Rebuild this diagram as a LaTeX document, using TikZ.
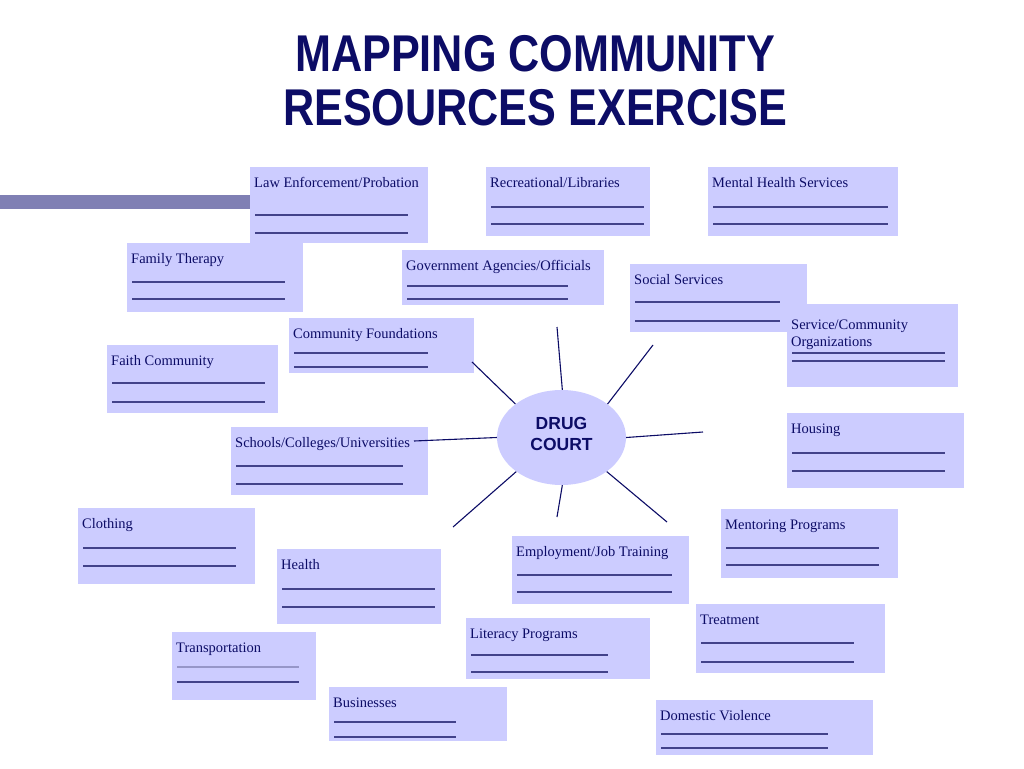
\documentclass[tikz,border=0pt]{standalone}
\usepackage{fontspec}
\setmainfont{Liberation Serif}
\newfontfamily\headfont[FakeStretch=0.835]{Liberation Sans}
\newfontfamily\hubfont{Liberation Sans}
\usetikzlibrary{shapes.geometric}

\definecolor{navy}{RGB}{12,12,102}
\definecolor{boxfill}{RGB}{204,204,255}
\definecolor{barcol}{RGB}{128,128,180}
\definecolor{blankline}{RGB}{66,66,138}
\definecolor{blanklight}{RGB}{150,150,200}

% box: name, x, y (top left), width, height, text, blank length, blank 1, blank 2
\newcommand{\resbox}[9]{%
\node[resbox, minimum width=#4pt, minimum height=#5pt, anchor=north west] (#1) at (#2,#3) {};
\node[restext, anchor=base west] (#1-t) at ([shift={(4pt,-20pt)}]#1.north west) {#6};
\draw[blank] ([shift={(5pt,-#8pt)}]#1.north west) -- ++(#7pt,0);
\draw[blank] ([shift={(5pt,-#9pt)}]#1.north west) -- ++(#7pt,0);
}

\begin{document}
\begin{tikzpicture}[x=1pt, y=-1pt,
  resbox/.style={rectangle, fill=boxfill, inner sep=0},
  restext/.style={inner sep=0, text=navy, font=\fontsize{14.5}{17}\selectfont},
  blank/.style={draw=blankline, line width=1.1pt},
  spoke/.style={draw=navy, line width=1.1pt},
  court/.style={ellipse, fill=boxfill, inner sep=0},
  courttext/.style={inner sep=0, text=navy, align=center,
    font=\hubfont\bfseries\fontsize{17.5}{21}\selectfont}]
\useasboundingbox (0,0) rectangle (1024,768);

% title
\node[text=navy, align=center, inner sep=0,
  font=\headfont\bfseries\fontsize{51.7}{54}\selectfont] (title) at (535,81)
  {MAPPING COMMUNITY\\RESOURCES EXERCISE};
\fill[barcol] (0,195) rectangle (260,209);

% resource boxes
\resbox{law}{250}{167}{178}{76}{Law Enforcement/Probation}{153}{48}{66}
\resbox{rec}{486}{167}{164}{69}{Recreational/Libraries}{153}{40}{57}
\resbox{mental}{708}{167}{190}{69}{Mental Health Services}{175}{40}{57}
\resbox{family}{127}{243}{176}{69}{Family Therapy}{153}{39}{56}
\resbox{gov}{402}{250}{202}{55}{Government Agencies/Officials}{161}{36}{49}
\resbox{social}{630}{264}{177}{68}{Social Services}{145}{38}{57}
\resbox{serv}{787}{304}{171}{83}{\raisebox{-5pt}{\vtop{\hbox{Service/Community}\hbox{Organizations}}}}{153}{49}{57}
\resbox{found}{289}{318}{185}{55}{Community Foundations}{134}{35}{49}
\resbox{faith}{107}{345}{171}{68}{Faith Community}{153}{38}{57}
\resbox{housing}{787}{413}{177}{75}{Housing}{153}{40}{58}
\resbox{school}{231}{427}{197}{68}{Schools/Colleges/Universities}{167}{39}{57}
\resbox{cloth}{78}{508}{177}{76}{Clothing}{153}{40}{58}
\resbox{mentor}{721}{509}{177}{69}{Mentoring Programs}{153}{39}{56}
\resbox{employ}{512}{536}{177}{68}{Employment/Job Training}{155}{39}{56}
\resbox{health}{277}{549}{164}{75}{Health}{153}{40}{58}
\resbox{treat}{696}{604}{189}{69}{Treatment}{153}{39}{58}
\resbox{literacy}{466}{618}{184}{61}{Literacy Programs}{137}{37}{54}
\resbox{trans}{172}{632}{144}{68}{Transportation}{122}{35}{50}
\resbox{bus}{329}{687}{178}{54}{Businesses}{122}{35}{50}
\resbox{domestic}{656}{700}{217}{55}{Domestic Violence}{167}{34}{48}
% fainter first blank
\draw[blank, draw=blanklight] ([shift={(5pt,-35pt)}]trans.north west) -- ++(122pt,0);

% hub and spokes
\node[court, minimum width=129pt, minimum height=95pt] (court) at (561.5,437.5) {};
\node[courttext, yshift=4pt] (court-t) at (court) {DRUG\\COURT};
\coordinate (s-n) at (557,327);
\coordinate (s-ne) at (653,345);
\coordinate (s-e) at (703,432);
\coordinate (s-se) at (667,522);
\coordinate (s-s) at (557,517);
\coordinate (s-sw) at (453,527);
\coordinate (s-w) at (414,441);
\coordinate (s-nw) at (472,362);
\foreach \a/\s in {89/n, 36/ne, 0/e, -37/se, -89/s, 217/sw, 180/w, 144/nw}
  \draw[spoke] (court.\a) -- (s-\s);
\end{tikzpicture}
\end{document}
